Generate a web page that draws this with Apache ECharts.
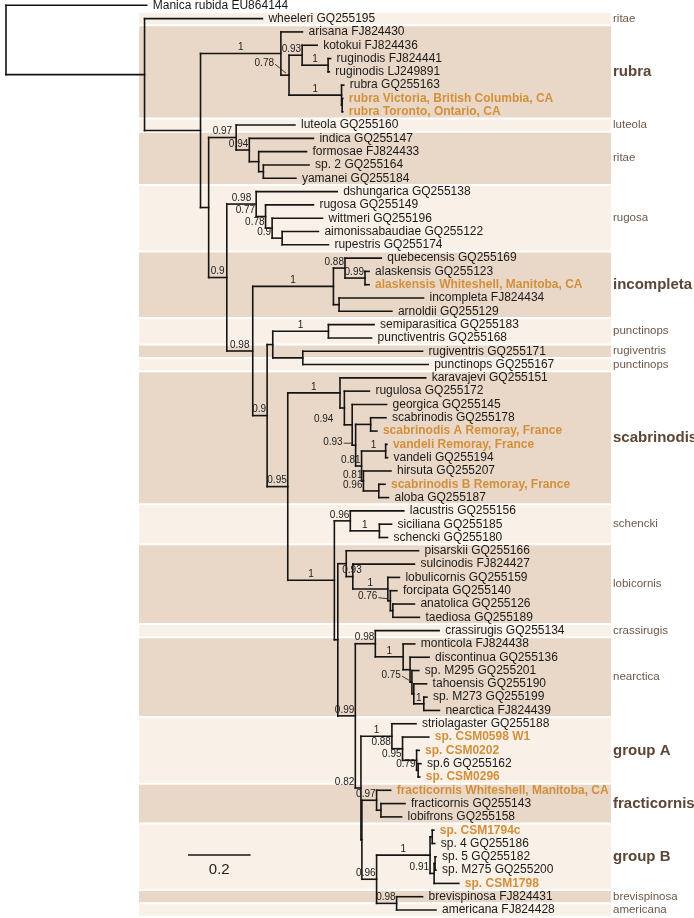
<!DOCTYPE html>
<html><head><meta charset="utf-8">
<script src="https://cdn.jsdelivr.net/npm/echarts@6/dist/echarts.min.js"></script>
<style>html,body{margin:0;padding:0;background:#fff}#c{width:694px;height:918px}</style>
</head><body><div id="c"></div>
<script>
// ---------------- DATA ----------------
// internal nodes (parent listed before child); branch lengths in substitutions/site
const internalIds = ['N1','N2','R','R2','K','RG','RU','RV','N3','A','IT','F','S','B','RC','RG2','W','AR','C','IC','Q','AL','IA','D','P','SP','RP','E','SC','SC2','G','H','SA','V','VA','V3','SB','L','SH','SS','L2','LB','SL','LO','FO','AT','NC','CN','NE','DI','M2','M3','MN','NC2','GA','G2','G3','G4','FB','FR','FL','BB','GB','C1','C2','C3','BV'];
const internalParents = ['root','N1','N2','R','R2','K','R2','RU','N2','N3','A','IT','F','N3','B','RC','RG2','W','B','C','IC','Q','IC','C','D','P','P','D','E','SC','SC2','G','H','H','V','V','V3','E','L','SH','L','L2','LB','SL','LO','FO','L2','NC','CN','NE','DI','M2','M3','NC','NC2','GA','G2','G3','NC2','FB','FR','FB','BB','GB','GB','C2','BB'];
const internalLengths = [0.443,0.179,0.257,0.026,0.042,0.083,0.168,0.002,0.026,0.088,0.042,0.030,0.015,0.058,0.094,0.030,0.021,0.032,0.083,0.258,0.037,0.064,0.018,0.046,0.018,0.178,0.096,0.066,0.167,0.014,0.025,0.011,0.048,0.019,0.077,0.006,0.049,0.149,0.051,0.093,0.011,0.027,0.021,0.112,0.008,0.008,0.056,0.064,0.089,0.022,0.006,0.006,0.032,0.018,0.099,0.034,0.045,0.005,0.003,0.047,0.014,0.047,0.171,0.007,0.013,0.003,0.064];
const internalSupports = ['','','1','0.78','0.93','1','1','','','0.97','0.94','','','0.9','0.98','0.77','0.78','0.9','0.98','1','0.88','0.99','','0.9','','1','','0.95','1','','0.94','0.93','','0.81','1','0.81','0.96','1','0.96','1','','','0.93','1','0.76','','0.99','0.98','1','','0.75','','1','0.82','1','0.88','0.95','0.79','','0.97','','0.96','1','','0.91','','0.98'];

// leaves in display order (top to bottom)
const leafNames = ['Manica rubida EU864144','wheeleri GQ255195','arisana FJ824430','kotokui FJ824436','ruginodis FJ824441','ruginodis LJ249891','rubra GQ255163','rubra Victoria, British Columbia, CA','rubra Toronto, Ontario, CA','luteola GQ255160','indica GQ255147','formosae FJ824433','sp. 2 GQ255164','yamanei GQ255184','dshungarica GQ255138','rugosa GQ255149','wittmeri GQ255196','aimonissabaudiae GQ255122','rupestris GQ255174','quebecensis GQ255169','alaskensis GQ255123','alaskensis Whiteshell, Manitoba, CA','incompleta FJ824434','arnoldii GQ255129','semiparasitica GQ255183','punctiventris GQ255168','rugiventris GQ255171','punctinops GQ255167','karavajevi GQ255151','rugulosa GQ255172','georgica GQ255145','scabrinodis GQ255178','scabrinodis A Remoray, France','vandeli Remoray, France','vandeli GQ255194','hirsuta GQ255207','scabrinodis B Remoray, France','aloba GQ255187','lacustris GQ255156','siciliana GQ255185','schencki GQ255180','pisarskii GQ255166','sulcinodis FJ824427','lobulicornis GQ255159','forcipata GQ255140','anatolica GQ255126','taediosa GQ255189','crassirugis GQ255134','monticola FJ824438','discontinua GQ255136','sp. M295 GQ255201','tahoensis GQ255190','sp. M273 GQ255199','nearctica FJ824439','striolagaster GQ255188','sp. CSM0598 W1','sp. CSM0202','sp.6 GQ255162','sp. CSM0296','fracticornis Whiteshell, Manitoba, CA','fracticornis GQ255143','lobifrons GQ255158','sp. CSM1794c','sp. 4 GQ255186','sp. 5 GQ255182','sp. M275 GQ255200','sp. CSM1798','brevispinosa FJ824431','americana FJ824428'];
const leafParents = ['root','N1','R','K','RG','RG','RU','RV','RV','A','IT','F','S','S','RC','RG2','W','AR','AR','Q','AL','AL','IA','IA','SP','SP','RP','RP','SC','SC2','G','SA','SA','VA','VA','V3','SB','SB','SH','SS','SS','LB','SL','LO','FO','AT','AT','CN','NE','DI','M2','M3','MN','MN','GA','G2','G3','G4','G4','FR','FL','FL','C1','C1','C3','C3','C2','BV','BV'];
const leafLengths = [0.450,0.377,0.069,0.048,0.008,0.004,0.007,0.002,0.002,0.188,0.205,0.153,0.146,0.104,0.259,0.153,0.161,0.116,0.148,0.116,0.013,0.013,0.270,0.169,0.146,0.138,0.383,0.401,0.274,0.080,0.110,0.049,0.020,0.004,0.006,0.088,0.020,0.031,0.171,0.039,0.026,0.231,0.197,0.037,0.021,0.069,0.085,0.204,0.037,0.061,0.022,0.041,0.010,0.050,0.077,0.084,0.008,0.009,0.005,0.045,0.077,0.066,0.005,0.008,0.003,0.003,0.079,0.083,0.126];
// newly sequenced specimens (highlighted)
const newSpecimens = ['rubra Victoria, British Columbia, CA','rubra Toronto, Ontario, CA','alaskensis Whiteshell, Manitoba, CA','scabrinodis A Remoray, France','vandeli Remoray, France','scabrinodis B Remoray, France','sp. CSM0598 W1','sp. CSM0202','sp. CSM0296','fracticornis Whiteshell, Manitoba, CA','sp. CSM1794c','sp. CSM1798'];

// species groups (bands): first / last leaf index
const groupNames = ['ritae','rubra','luteola','ritae','rugosa','incompleta','punctinops','rugiventris','punctinops','scabrinodis','schencki','lobicornis','crassirugis','nearctica','group A','fracticornis','group B','brevispinosa','americana'];
const groupFirstLeaf = [1,2,9,10,14,19,24,26,27,28,38,41,47,48,54,59,62,67,68];
const groupLastLeaf  = [1,8,9,13,18,23,25,26,27,37,40,46,47,53,58,61,66,67,68];
const majorGroups = ['rubra','incompleta','scabrinodis','group A','fracticornis','group B'];

const scaleBarLength = 0.2;

// ---------------- STYLE / LAYOUT ----------------
const FONT = '"Liberation Sans", Arial, Helvetica, sans-serif';
const LINE_COLOR = '#141414';
const BAND_DARK = '#e9d8c7', BAND_LIGHT = '#f9f0e7';
const ORANGE = '#d3903c';
const MAJOR_COLOR = '#5d4636', MINOR_COLOR = '#6e5847';
const BAND_LEFT = 139, BAND_RIGHT = 611, GROUP_LABEL_X = 613;
const SCALE_X = 188, SCALE_Y = 855;
const supportStyle = {
  R2:{mode:'leader',dx:-15,dy:-12}, H:{mode:'leader',dx:-13,dy:-3},
  FO:{mode:'leader',dx:-13,dy:-4}, M2:{mode:'leader',dx:-11,dy:-7},
  G:{mode:'left',dx:-10}, RG2:{mode:'left'}, W:{mode:'left'}, AR:{mode:'left'},
  SB:{mode:'left'}, NC2:{mode:'left'}, G2:{mode:'left'}, G3:{mode:'left'},
  G4:{mode:'left'}, C2:{mode:'left'}, SL:{mode:'over'}
};

// ---------------- TREE LAYOUT (from data) ----------------
const nodes = {root:{depth:0, parent:null, children:[]}};
internalIds.forEach((id,i)=>{ nodes[id] = {parent:internalParents[i], len:internalLengths[i], support:internalSupports[i], children:[]}; });
internalIds.forEach(id=>{ const n = nodes[id]; n.depth = nodes[n.parent].depth + n.len; nodes[n.parent].children.push(id); });
leafNames.forEach((nm,i)=>{ const key='leaf'+i; const par = leafParents[i];
  nodes[key] = {parent:par, len:leafLengths[i], depth:nodes[par].depth + leafLengths[i], y:i, leaf:true, name:nm};
  nodes[par].children.push(key); });
const order = internalIds.slice().reverse().concat(['root']);
order.forEach(id=>{ const n = nodes[id]; const ys = n.children.map(c=>nodes[c].y);
  n.yMin = Math.min.apply(null, ys); n.yMax = Math.max.apply(null, ys); n.y = (n.yMin + n.yMax)/2; });

const segments = [];
Object.keys(nodes).forEach(id=>{ const n = nodes[id];
  if (n.parent) segments.push([nodes[n.parent].depth, n.y, n.depth, n.y]);
  if (!n.leaf) segments.push([n.depth, n.yMin, n.depth, n.yMax]);
});
const leafItems = leafNames.map((nm,i)=>[nodes['leaf'+i].depth, i]);
const supportItems = internalIds.filter(id=>nodes[id].support).map(id=>({id, text:nodes[id].support, depth:nodes[id].depth, pdepth:nodes[nodes[id].parent].depth, y:nodes[id].y}));

const mctx = document.createElement('canvas').getContext('2d');
mctx.font = '10px ' + FONT;
const measure = t => mctx.measureText(t).width;

function txt(text, x, y, opts){
  return {type:'text', style:Object.assign({text, x, y, fill:'#1a1a1a', fontSize:12, fontFamily:FONT,
    align:opts.align||'left', textAlign:opts.align||'left', verticalAlign:opts.va||'middle', textVerticalAlign:opts.va||'middle'}, opts.style||{})};
}

const chart = echarts.init(document.getElementById('c'), null, {renderer:'canvas', width:694, height:918});
chart.setOption({
  animation:false,
  backgroundColor:'#ffffff',
  grid:{left:6, top:0, width:690, height:919},
  xAxis:{type:'value', min:0, max:2.2, show:false},
  yAxis:{type:'value', min:-0.4, max:68.6, inverse:true, show:false},
  series:[
    { type:'custom', coordinateSystem:'cartesian2d', z:1, silent:true,
      data: groupNames.map((g,i)=>[groupFirstLeaf[i]-0.5, groupLastLeaf[i]+0.5]),
      renderItem:(params, api)=>{
        const y0 = api.coord([0, api.value(0)])[1] + 1, y1 = api.coord([0, api.value(1)])[1] - 1;
        return {type:'rect', shape:{x:BAND_LEFT, y:y0, width:BAND_RIGHT-BAND_LEFT, height:y1-y0},
          style:{fill: params.dataIndex % 2 ? BAND_DARK : BAND_LIGHT}};
      }},
    { type:'custom', coordinateSystem:'cartesian2d', z:2, silent:true,
      data: groupNames.map((g,i)=>[(groupFirstLeaf[i]+groupLastLeaf[i])/2]),
      renderItem:(params, api)=>{
        const y = api.coord([0, api.value(0)])[1];
        const g = groupNames[params.dataIndex]; const major = majorGroups.indexOf(g) >= 0;
        return txt(g, GROUP_LABEL_X, y, {style: major ? {fill:MAJOR_COLOR, fontSize:15, fontWeight:'bold'} : {fill:MINOR_COLOR, fontSize:11.5}});
      }},
    { type:'custom', coordinateSystem:'cartesian2d', z:3, silent:true,
      data: segments,
      renderItem:(params, api)=>{
        const p1 = api.coord([api.value(0), api.value(1)]), p2 = api.coord([api.value(2), api.value(3)]);
        return {type:'line', shape:{x1:p1[0], y1:p1[1], x2:p2[0], y2:p2[1]},
          style:{stroke:LINE_COLOR, lineWidth:1.6, lineCap:'square'}};
      }},
    { type:'custom', coordinateSystem:'cartesian2d', z:4, silent:true,
      data: leafItems,
      renderItem:(params, api)=>{
        const p = api.coord([api.value(0), api.value(1)]);
        const nm = leafNames[params.dataIndex]; const hl = newSpecimens.indexOf(nm) >= 0;
        return txt(nm, p[0]+6, p[1], {style: hl ? {fill:ORANGE, fontWeight:'bold'} : {}});
      }},
    { type:'custom', coordinateSystem:'cartesian2d', z:5, silent:true,
      data: supportItems.map(s=>[s.depth, s.y, s.pdepth]),
      renderItem:(params, api)=>{
        const s = supportItems[params.dataIndex];
        const p = api.coord([api.value(0), api.value(1)]), pp = api.coord([api.value(2), api.value(1)]);
        const st = supportStyle[s.id] || {}; const mode = st.mode || 'auto';
        const w = measure(s.text);
        let x, y = p[1]-1, align = 'right', va = 'bottom'; const children = [];
        if (mode === 'auto') {
          const br = p[0]-pp[0];
          if (br >= w+4) { x = (p[0]+pp[0])/2; align = 'center'; } else { x = p[0]-1; }
        } else if (mode === 'left') { x = pp[0]-1+(st.dx||0); }
        else if (mode === 'over') { x = pp[0]-4; align = 'left'; }
        else { x = p[0]+st.dx; y = p[1]+st.dy; va = 'middle';
          children.push({type:'line', shape:{x1:x+1, y1:y+1, x2:p[0]-3, y2:p[1]-2}, style:{stroke:LINE_COLOR, lineWidth:0.8}}); }
        children.push(txt(s.text, x, y, {align, va, style:{fontSize:10, fill:'#222'}}));
        return {type:'group', children};
      }},
    { type:'custom', coordinateSystem:'cartesian2d', z:5, silent:true,
      data: [[scaleBarLength]],
      renderItem:(params, api)=>{
        const w = api.size([api.value(0), 0])[0];
        return {type:'group', children:[
          {type:'line', shape:{x1:SCALE_X, y1:SCALE_Y, x2:SCALE_X+w, y2:SCALE_Y}, style:{stroke:LINE_COLOR, lineWidth:1.6}},
          txt(String(scaleBarLength), SCALE_X+w/2, SCALE_Y+15, {align:'center', style:{fontSize:15, fill:'#222'}})
        ]};
      }}
  ]
});
</script></body></html>
